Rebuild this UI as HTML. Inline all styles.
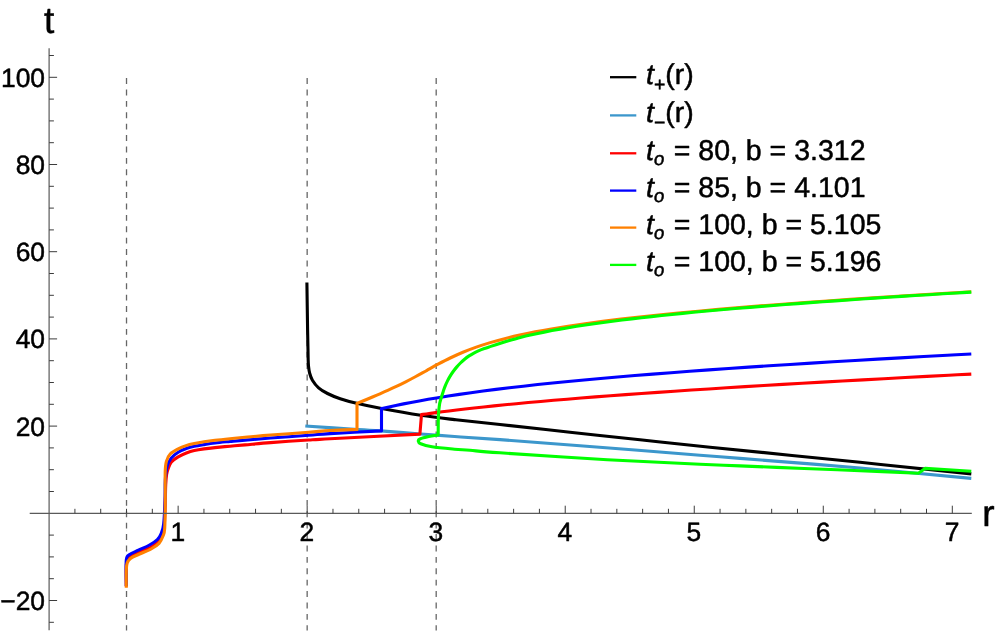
<!DOCTYPE html>
<html><head><meta charset="utf-8"><title>t(r) plot</title>
<style>
html,body{margin:0;padding:0;background:#fff;}
body{width:997px;height:633px;overflow:hidden;position:relative;font-family:"Liberation Sans",sans-serif;}
</style></head><body>
<svg width="997" height="633" viewBox="0 0 997 633" text-rendering="geometricPrecision" style="position:absolute;left:0;top:0;will-change:transform;font-family:'Liberation Sans',sans-serif">
<rect width="997" height="633" fill="#fff"/>
<style>text{stroke:#000;stroke-width:0.5;stroke-linejoin:round}</style>
<line x1="126.52" y1="78.10" x2="126.52" y2="630.6" stroke="#666666" stroke-width="1.3" stroke-dasharray="5.9 5.5" stroke-dashoffset="0"/>
<line x1="307.16" y1="78.10" x2="307.16" y2="630.6" stroke="#666666" stroke-width="1.3" stroke-dasharray="5.9 5.5" stroke-dashoffset="0"/>
<line x1="436.19" y1="78.10" x2="436.19" y2="630.6" stroke="#666666" stroke-width="1.3" stroke-dasharray="5.9 5.5" stroke-dashoffset="0"/>
<path d="M306.90,282.60 C307.02,290.50 307.42,318.77 307.60,330.00 C307.78,341.23 307.91,345.17 308.00,350.00 C308.09,354.83 308.07,356.33 308.15,359.00 C308.23,361.67 308.26,363.67 308.50,366.00 C308.74,368.33 308.95,370.63 309.60,373.00 C310.25,375.37 310.90,377.73 312.40,380.20 C313.90,382.67 316.08,385.58 318.60,387.80 C321.12,390.02 323.90,391.68 327.50,393.50 C331.10,395.32 335.33,397.07 340.20,398.70 C345.07,400.33 350.00,401.70 356.70,403.30 C363.40,404.90 369.73,406.30 380.40,408.30 C391.07,410.30 408.35,413.42 420.70,415.30 C433.05,417.18 441.28,418.07 454.50,419.60 C467.72,421.13 480.75,422.40 500.00,424.50 C519.25,426.60 546.67,429.65 570.00,432.20 C593.33,434.75 616.67,437.30 640.00,439.80 C663.33,442.30 673.33,443.45 710.00,447.20 C746.67,450.95 816.45,457.85 860.00,462.30 C903.55,466.75 952.75,471.97 971.30,473.90" fill="none" stroke="#000000" stroke-width="3.1" stroke-linejoin="round" stroke-linecap="butt"/>
<path d="M305.30,426.00 C314.05,426.60 345.28,428.78 357.80,429.60 C370.32,430.42 369.92,430.17 380.40,430.90 C390.88,431.63 408.35,433.07 420.70,434.00 C433.05,434.93 441.28,435.57 454.50,436.50 C467.72,437.43 479.08,438.07 500.00,439.60 C520.92,441.13 546.67,443.10 580.00,445.70 C613.33,448.30 673.33,453.08 700.00,455.20 C726.67,457.32 713.33,456.27 740.00,458.40 C766.67,460.53 821.45,464.67 860.00,468.00 C898.55,471.33 952.75,476.67 971.30,478.40" fill="none" stroke="#3c97cc" stroke-width="3.1" stroke-linejoin="round" stroke-linecap="butt"/>
<path d="M126.30,586.50 C126.30,583.08 126.10,570.50 126.30,566.00 C126.50,561.50 126.38,561.33 127.50,559.50 C128.62,557.67 130.92,556.25 133.00,555.00 C135.08,553.75 137.12,553.25 140.00,552.00 C142.88,550.75 147.27,549.18 150.30,547.50 C153.33,545.82 156.23,544.02 158.20,541.90 C160.17,539.78 161.10,537.45 162.10,534.80 C163.10,532.15 163.67,531.80 164.20,526.00 C164.73,520.20 165.05,506.83 165.30,500.00 C165.55,493.17 165.48,489.25 165.70,485.00 C165.92,480.75 166.22,477.12 166.60,474.50 C166.98,471.88 167.23,471.35 168.00,469.30 C168.77,467.25 169.50,464.27 171.20,462.20 C172.90,460.13 175.57,458.47 178.20,456.90 C180.83,455.33 184.32,453.85 187.00,452.80 C189.68,451.75 191.47,451.25 194.30,450.60 C197.13,449.95 200.55,449.40 204.00,448.90 C207.45,448.40 210.67,448.05 215.00,447.60 C219.33,447.15 225.00,446.65 230.00,446.20 C235.00,445.75 238.25,445.50 245.00,444.90 C251.75,444.30 259.90,443.42 270.50,442.60 C281.10,441.78 298.68,440.63 308.60,440.00 C318.52,439.37 311.45,439.78 330.00,438.80 C348.55,437.82 404.92,434.88 419.90,434.10 L421.50,414.60 C421.76,414.56 422.27,414.49 423.06,414.38 C423.85,414.27 424.99,414.11 426.24,413.94 C427.49,413.77 428.97,413.56 430.58,413.34 C432.19,413.12 433.97,412.88 435.88,412.63 C437.79,412.38 439.86,412.11 442.05,411.83 C444.24,411.55 446.57,411.26 449.01,410.96 C451.45,410.66 454.03,410.34 456.71,410.02 C459.39,409.70 462.20,409.37 465.10,409.04 C468.00,408.71 471.02,408.37 474.14,408.02 C477.26,407.67 480.48,407.32 483.80,406.97 C487.12,406.62 490.55,406.26 494.07,405.90 C497.59,405.54 501.19,405.17 504.90,404.80 C508.60,404.43 512.41,404.07 516.30,403.70 C520.19,403.33 524.16,402.95 528.23,402.58 C532.30,402.20 536.45,401.83 540.69,401.45 C544.93,401.07 549.25,400.70 553.66,400.32 C558.06,399.94 562.55,399.56 567.12,399.18 C571.69,398.80 576.33,398.43 581.06,398.05 C585.79,397.67 590.60,397.29 595.48,396.91 C600.36,396.53 605.32,396.15 610.36,395.77 C615.40,395.39 620.51,395.00 625.70,394.62 C630.89,394.24 636.15,393.86 641.48,393.48 C646.81,393.10 652.21,392.73 657.69,392.35 C663.17,391.97 668.72,391.59 674.34,391.21 C679.96,390.83 685.64,390.45 691.40,390.07 C697.16,389.69 702.99,389.31 708.88,388.93 C714.77,388.55 720.74,388.17 726.77,387.79 C732.80,387.41 738.90,387.04 745.06,386.66 C751.22,386.28 757.46,385.90 763.75,385.52 C770.04,385.14 776.40,384.76 782.82,384.38 C789.24,384.00 795.74,383.62 802.29,383.24 C808.84,382.86 815.45,382.49 822.13,382.11 C828.81,381.73 835.55,381.35 842.35,380.97 C849.15,380.59 856.02,380.21 862.94,379.83 C869.86,379.45 876.85,379.07 883.89,378.69 C890.93,378.31 898.04,377.92 905.21,377.54 C912.38,377.16 919.61,376.78 926.89,376.40 C934.17,376.02 941.52,375.63 948.92,375.25 C956.32,374.87 967.57,374.29 971.30,374.10" fill="none" stroke="#ff0000" stroke-width="3.1" stroke-linejoin="round" stroke-linecap="butt"/>
<path d="M126.30,586.00 C126.30,581.67 125.73,565.25 126.30,560.00 C126.87,554.75 127.68,556.13 129.70,554.50 C131.72,552.87 135.10,551.78 138.40,550.20 C141.70,548.62 146.33,546.78 149.50,545.00 C152.67,543.22 155.43,541.47 157.40,539.50 C159.37,537.53 160.25,535.83 161.30,533.20 C162.35,530.57 163.08,529.23 163.70,523.70 C164.32,518.17 164.73,507.28 165.00,500.00 C165.27,492.72 164.93,485.63 165.30,480.00 C165.67,474.37 166.22,469.85 167.20,466.20 C168.18,462.55 169.37,460.43 171.20,458.10 C173.03,455.77 175.57,453.83 178.20,452.20 C180.83,450.57 184.32,449.28 187.00,448.30 C189.68,447.32 191.47,446.92 194.30,446.30 C197.13,445.68 200.55,445.15 204.00,444.60 C207.45,444.05 210.67,443.52 215.00,443.00 C219.33,442.48 225.00,441.98 230.00,441.50 C235.00,441.02 238.25,440.68 245.00,440.10 C251.75,439.52 259.90,438.80 270.50,438.00 C281.10,437.20 298.68,436.03 308.60,435.30 C318.52,434.57 317.85,434.33 330.00,433.60 C342.15,432.87 372.92,431.35 381.50,430.90 L381.50,408.58 C381.78,408.51 382.33,408.38 383.18,408.19 C384.03,408.00 385.25,407.73 386.59,407.43 C387.93,407.13 389.52,406.79 391.24,406.42 C392.96,406.05 394.88,405.64 396.93,405.22 C398.98,404.80 401.20,404.35 403.55,403.89 C405.90,403.43 408.40,402.94 411.02,402.44 C413.64,401.94 416.39,401.43 419.27,400.91 C422.14,400.39 425.15,399.87 428.27,399.33 C431.39,398.79 434.63,398.25 437.97,397.70 C441.31,397.15 444.77,396.60 448.33,396.05 C451.89,395.50 455.57,394.94 459.34,394.38 C463.11,393.82 466.99,393.27 470.97,392.72 C474.95,392.17 479.03,391.61 483.20,391.06 C487.37,390.51 491.64,389.96 496.00,389.41 C500.36,388.86 504.81,388.32 509.36,387.78 C513.90,387.24 518.54,386.70 523.27,386.17 C528.00,385.64 532.81,385.11 537.71,384.58 C542.61,384.05 547.60,383.54 552.67,383.02 C557.74,382.50 562.90,381.99 568.14,381.48 C573.38,380.97 578.70,380.46 584.10,379.96 C589.50,379.46 594.99,378.97 600.55,378.47 C606.11,377.98 611.76,377.48 617.48,376.99 C623.20,376.50 629.00,376.02 634.88,375.54 C640.75,375.06 646.70,374.58 652.73,374.10 C658.76,373.62 664.86,373.16 671.04,372.69 C677.22,372.22 683.47,371.75 689.79,371.28 C696.11,370.81 702.51,370.36 708.98,369.90 C715.45,369.44 721.99,368.98 728.60,368.52 C735.21,368.06 741.90,367.61 748.65,367.16 C755.40,366.71 762.22,366.26 769.11,365.81 C776.00,365.36 782.96,364.92 789.99,364.47 C797.02,364.02 804.12,363.57 811.28,363.13 C818.44,362.69 825.67,362.25 832.96,361.81 C840.25,361.37 847.62,360.93 855.05,360.49 C862.48,360.05 869.97,359.61 877.53,359.17 C885.09,358.73 892.71,358.30 900.40,357.86 C908.09,357.42 915.85,356.99 923.66,356.55 C931.47,356.12 939.35,355.68 947.29,355.25 C955.23,354.82 967.30,354.17 971.30,353.95" fill="none" stroke="#0000ff" stroke-width="3.1" stroke-linejoin="round" stroke-linecap="butt"/>
<path d="M126.30,587.70 C126.30,584.93 126.17,575.18 126.30,571.10 C126.43,567.02 126.40,565.30 127.10,563.20 C127.80,561.10 128.62,559.95 130.50,558.50 C132.38,557.05 134.97,556.08 138.40,554.50 C141.83,552.92 147.67,550.85 151.10,549.00 C154.53,547.15 157.03,545.52 159.00,543.40 C160.97,541.28 161.95,538.80 162.90,536.30 C163.85,533.80 164.30,534.45 164.70,528.40 C165.10,522.35 165.22,509.40 165.30,500.00 C165.38,490.60 165.02,478.45 165.20,472.00 C165.38,465.55 165.57,464.30 166.40,461.30 C167.23,458.30 168.23,456.07 170.20,454.00 C172.17,451.93 175.57,450.30 178.20,448.90 C180.83,447.50 183.32,446.50 186.00,445.60 C188.68,444.70 191.30,444.13 194.30,443.50 C197.30,442.87 200.55,442.33 204.00,441.80 C207.45,441.27 210.67,440.82 215.00,440.30 C219.33,439.78 225.00,439.20 230.00,438.70 C235.00,438.20 238.25,437.92 245.00,437.30 C251.75,436.68 259.90,435.83 270.50,435.00 C281.10,434.17 298.68,433.05 308.60,432.30 C318.52,431.55 321.93,430.98 330.00,430.50 C338.07,430.02 352.50,429.58 357.00,429.40 L357.00,403.38 C357.29,403.26 357.87,403.02 358.75,402.66 C359.63,402.30 360.90,401.78 362.30,401.21 C363.70,400.64 365.34,399.97 367.14,399.23 C368.94,398.49 370.93,397.67 373.07,396.78 C375.21,395.89 377.51,394.93 379.96,393.87 C382.40,392.81 385.01,391.68 387.74,390.45 C390.47,389.22 393.34,387.91 396.34,386.47 C399.33,385.04 402.46,383.50 405.71,381.84 C408.95,380.18 412.33,378.38 415.81,376.50 C419.29,374.62 422.90,372.58 426.61,370.53 C430.32,368.48 434.15,366.30 438.08,364.21 C442.01,362.12 446.05,359.99 450.19,358.00 C454.33,356.01 458.58,354.07 462.92,352.26 C467.26,350.45 471.72,348.75 476.26,347.14 C480.80,345.53 485.45,344.05 490.18,342.63 C494.91,341.21 499.74,339.90 504.66,338.64 C509.58,337.38 514.60,336.20 519.70,335.07 C524.80,333.94 530.00,332.88 535.28,331.86 C540.56,330.84 545.93,329.87 551.39,328.93 C556.85,327.99 562.39,327.09 568.02,326.22 C573.65,325.35 579.36,324.52 585.15,323.71 C590.94,322.90 596.82,322.12 602.78,321.35 C608.74,320.59 614.78,319.84 620.90,319.12 C627.02,318.40 633.22,317.70 639.50,317.01 C645.78,316.32 652.14,315.65 658.57,314.99 C665.00,314.33 671.51,313.68 678.10,313.04 C684.69,312.40 691.34,311.78 698.08,311.17 C704.82,310.56 711.63,309.96 718.52,309.36 C725.41,308.76 732.37,308.18 739.40,307.60 C746.43,307.02 753.53,306.44 760.71,305.88 C767.89,305.31 775.14,304.76 782.46,304.21 C789.78,303.66 797.17,303.11 804.63,302.57 C812.09,302.03 819.62,301.49 827.22,300.96 C834.82,300.43 842.48,299.89 850.22,299.37 C857.96,298.85 865.77,298.33 873.64,297.81 C881.51,297.29 889.45,296.78 897.46,296.27 C905.47,295.76 913.54,295.25 921.68,294.75 C929.82,294.25 938.02,293.74 946.29,293.24 C954.56,292.74 967.13,292.00 971.30,291.75" fill="none" stroke="#ff8000" stroke-width="3.1" stroke-linejoin="round" stroke-linecap="butt"/>
<path d="M971.30,292.10 C968.92,292.24 961.78,292.68 957.05,292.96 C952.32,293.25 947.62,293.52 942.94,293.81 C938.26,294.10 933.61,294.39 928.98,294.68 C924.35,294.97 919.75,295.25 915.17,295.54 C910.59,295.83 906.04,296.12 901.51,296.41 C896.98,296.70 892.48,297.00 888.00,297.29 C883.52,297.58 879.07,297.88 874.64,298.17 C870.21,298.47 865.82,298.76 861.44,299.06 C857.07,299.36 852.72,299.65 848.39,299.95 C844.06,300.25 839.76,300.55 835.49,300.85 C831.22,301.15 826.97,301.45 822.75,301.75 C818.53,302.05 814.34,302.36 810.18,302.66 C806.01,302.97 801.87,303.27 797.76,303.58 C793.65,303.89 789.56,304.20 785.50,304.51 C781.44,304.82 777.40,305.14 773.40,305.45 C769.39,305.76 765.42,306.07 761.47,306.39 C757.52,306.71 753.60,307.03 749.70,307.35 C745.81,307.67 741.94,308.00 738.10,308.32 C734.26,308.65 730.45,308.97 726.67,309.30 C722.89,309.63 719.13,309.96 715.41,310.29 C711.68,310.62 707.99,310.96 704.32,311.30 C700.65,311.64 697.01,311.98 693.40,312.32 C689.79,312.66 686.21,313.01 682.66,313.36 C679.11,313.71 675.59,314.06 672.10,314.42 C668.61,314.78 665.15,315.13 661.72,315.49 C658.29,315.85 654.89,316.22 651.52,316.59 C648.15,316.96 644.81,317.33 641.50,317.71 C638.19,318.09 634.92,318.47 631.67,318.85 C628.42,319.23 625.20,319.62 622.02,320.01 C618.84,320.40 615.69,320.81 612.57,321.21 C609.45,321.61 606.36,322.02 603.31,322.43 C600.26,322.84 597.24,323.26 594.25,323.69 C591.26,324.12 588.31,324.54 585.39,324.98 C582.47,325.42 579.58,325.87 576.73,326.32 C573.88,326.77 571.05,327.23 568.27,327.69 C565.49,328.15 562.74,328.63 560.03,329.11 C557.32,329.59 554.63,330.08 551.99,330.58 C549.35,331.08 546.74,331.59 544.17,332.11 C541.60,332.63 539.08,333.16 536.58,333.70 C534.09,334.24 531.62,334.80 529.20,335.36 C526.78,335.92 524.40,336.50 522.06,337.09 C519.72,337.68 517.41,338.28 515.15,338.90 C512.89,339.51 510.66,340.15 508.48,340.79 C506.30,341.43 504.16,342.08 502.06,342.74 C499.96,343.39 497.89,344.05 495.88,344.70 C493.87,345.34 491.90,345.98 489.97,346.62 C488.04,347.26 486.16,347.87 484.32,348.54 C482.48,349.20 480.69,349.86 478.95,350.61 C477.21,351.35 475.51,352.13 473.87,353.01 C472.23,353.89 470.62,354.84 469.08,355.88 C467.53,356.91 466.04,358.05 464.60,359.24 C463.16,360.43 461.78,361.71 460.45,363.02 C459.12,364.34 457.84,365.71 456.63,367.13 C455.42,368.54 454.26,370.01 453.18,371.50 C452.10,373.00 451.08,374.55 450.13,376.12 C449.18,377.68 448.30,379.30 447.50,380.89 C446.70,382.48 445.97,384.14 445.35,385.63 C444.73,387.12 444.17,388.74 443.78,389.83 C443.39,390.92 443.46,390.75 443.00,392.20 C442.54,393.64 441.58,396.45 441.00,398.50 C440.42,400.55 439.93,401.60 439.50,404.50 C439.07,407.40 438.62,410.83 438.40,415.90 C438.18,420.97 438.23,431.73 438.20,434.90 L438.20,434.90 C436.62,435.17 431.75,435.82 428.70,436.50 C425.65,437.18 421.63,438.25 419.90,439.00 C418.17,439.75 418.17,440.20 418.30,441.00 C418.43,441.80 418.42,442.83 420.70,443.80 C422.98,444.77 426.37,445.90 432.00,446.80 C437.63,447.70 448.17,448.62 454.50,449.20 C460.83,449.78 462.42,449.70 470.00,450.30 C477.58,450.90 477.10,451.23 500.00,452.80 C522.90,454.37 574.07,457.80 607.40,459.70 C640.73,461.60 677.90,463.17 700.00,464.20 C722.10,465.23 722.63,465.18 740.00,465.90 C757.37,466.62 784.20,467.70 804.20,468.50 C824.20,469.30 840.97,469.92 860.00,470.70 C879.03,471.48 908.67,472.78 918.40,473.20 L925.00,468.40 C932.72,468.87 963.58,470.73 971.30,471.20" fill="none" stroke="#00ff00" stroke-width="3.1" stroke-linejoin="round" stroke-linecap="butt"/>
<line x1="29.70" y1="513.30" x2="971.80" y2="513.30" stroke="#5a5a5a" stroke-width="1.2"/>
<line x1="49.10" y1="48.30" x2="49.10" y2="630.30" stroke="#5a5a5a" stroke-width="1.2"/>
<path d="M74.91,513.30 v-4.50 M100.71,513.30 v-4.50 M126.52,513.30 v-4.50 M152.32,513.30 v-4.50 M178.13,513.30 v-7.60 M203.94,513.30 v-4.50 M229.74,513.30 v-4.50 M255.55,513.30 v-4.50 M281.35,513.30 v-4.50 M307.16,513.30 v-7.60 M332.97,513.30 v-4.50 M358.77,513.30 v-4.50 M384.58,513.30 v-4.50 M410.38,513.30 v-4.50 M436.19,513.30 v-7.60 M462.00,513.30 v-4.50 M487.80,513.30 v-4.50 M513.61,513.30 v-4.50 M539.41,513.30 v-4.50 M565.22,513.30 v-7.60 M591.03,513.30 v-4.50 M616.83,513.30 v-4.50 M642.64,513.30 v-4.50 M668.44,513.30 v-4.50 M694.25,513.30 v-7.60 M720.06,513.30 v-4.50 M745.86,513.30 v-4.50 M771.67,513.30 v-4.50 M797.47,513.30 v-4.50 M823.28,513.30 v-7.60 M849.09,513.30 v-4.50 M874.89,513.30 v-4.50 M900.70,513.30 v-4.50 M926.50,513.30 v-4.50 M952.31,513.30 v-7.60 M49.10,622.30 h4.80 M49.10,600.50 h8.00 M49.10,578.70 h4.80 M49.10,556.90 h4.80 M49.10,535.10 h4.80 M49.10,491.50 h4.80 M49.10,469.70 h4.80 M49.10,447.90 h4.80 M49.10,426.10 h8.00 M49.10,404.30 h4.80 M49.10,382.50 h4.80 M49.10,360.70 h4.80 M49.10,338.90 h8.00 M49.10,317.10 h4.80 M49.10,295.30 h4.80 M49.10,273.50 h4.80 M49.10,251.70 h8.00 M49.10,229.90 h4.80 M49.10,208.10 h4.80 M49.10,186.30 h4.80 M49.10,164.50 h8.00 M49.10,142.70 h4.80 M49.10,120.90 h4.80 M49.10,99.10 h4.80 M49.10,77.30 h8.00 M49.10,55.50 h4.80" stroke="#3c3c3c" stroke-width="1.0" fill="none"/>
<text x="177.83" y="540.50" font-size="26.4" text-anchor="middle" fill="#000">1</text>
<text x="306.86" y="540.50" font-size="26.4" text-anchor="middle" fill="#000">2</text>
<text x="435.89" y="540.50" font-size="26.4" text-anchor="middle" fill="#000">3</text>
<text x="564.92" y="540.50" font-size="26.4" text-anchor="middle" fill="#000">4</text>
<text x="693.95" y="540.50" font-size="26.4" text-anchor="middle" fill="#000">5</text>
<text x="822.98" y="540.50" font-size="26.4" text-anchor="middle" fill="#000">6</text>
<text x="952.01" y="540.50" font-size="26.4" text-anchor="middle" fill="#000">7</text>
<text x="45.00" y="86.70" font-size="26.4" text-anchor="end" fill="#000">100</text>
<text x="45.00" y="173.90" font-size="26.4" text-anchor="end" fill="#000">80</text>
<text x="45.00" y="261.10" font-size="26.4" text-anchor="end" fill="#000">60</text>
<text x="45.00" y="348.30" font-size="26.4" text-anchor="end" fill="#000">40</text>
<text x="45.00" y="435.50" font-size="26.4" text-anchor="end" fill="#000">20</text>
<text x="45.00" y="609.90" font-size="26.4" text-anchor="end" fill="#000">−20</text>
<text x="49.10" y="32.50" font-size="37" text-anchor="middle" fill="#000">t</text>
<text x="982.30" y="526.00" font-size="37" text-anchor="start" fill="#000">r</text>
<line x1="610.00" y1="77.20" x2="636.30" y2="77.20" stroke="#000000" stroke-width="2.3"/>
<text x="646.00" y="84.30" font-size="28.5" fill="#000"><tspan style="font-style:italic">t</tspan><tspan dy="7.0" font-size="19.5" style="">+</tspan><tspan dy="-7.0">(r)</tspan></text>
<line x1="610.00" y1="115.40" x2="636.30" y2="115.40" stroke="#3c97cc" stroke-width="2.3"/>
<text x="646.00" y="121.80" font-size="28.5" fill="#000"><tspan style="font-style:italic">t</tspan><tspan dy="7.0" font-size="19.5" style="">−</tspan><tspan dy="-7.0">(r)</tspan></text>
<line x1="610.00" y1="153.30" x2="636.30" y2="153.30" stroke="#ff0000" stroke-width="2.3"/>
<text x="646.00" y="159.70" font-size="28.5" fill="#000"><tspan style="font-style:italic">t</tspan><tspan dy="5.0" font-size="18.5" style="font-style:italic;">o</tspan><tspan dy="-5.0" dx="1.6"> = 80, b = 3.312</tspan></text>
<line x1="610.00" y1="190.60" x2="636.30" y2="190.60" stroke="#0000ff" stroke-width="2.3"/>
<text x="646.00" y="197.00" font-size="28.5" fill="#000"><tspan style="font-style:italic">t</tspan><tspan dy="5.0" font-size="18.5" style="font-style:italic;">o</tspan><tspan dy="-5.0" dx="1.6"> = 85, b = 4.101</tspan></text>
<line x1="610.00" y1="227.60" x2="636.30" y2="227.60" stroke="#ff8000" stroke-width="2.3"/>
<text x="646.00" y="234.00" font-size="28.5" fill="#000"><tspan style="font-style:italic">t</tspan><tspan dy="5.0" font-size="18.5" style="font-style:italic;">o</tspan><tspan dy="-5.0" dx="1.6"> = 100, b = 5.105</tspan></text>
<line x1="610.00" y1="264.90" x2="636.30" y2="264.90" stroke="#00ff00" stroke-width="2.3"/>
<text x="646.00" y="271.30" font-size="28.5" fill="#000"><tspan style="font-style:italic">t</tspan><tspan dy="5.0" font-size="18.5" style="font-style:italic;">o</tspan><tspan dy="-5.0" dx="1.6"> = 100, b = 5.196</tspan></text>
</svg>
</body></html>
